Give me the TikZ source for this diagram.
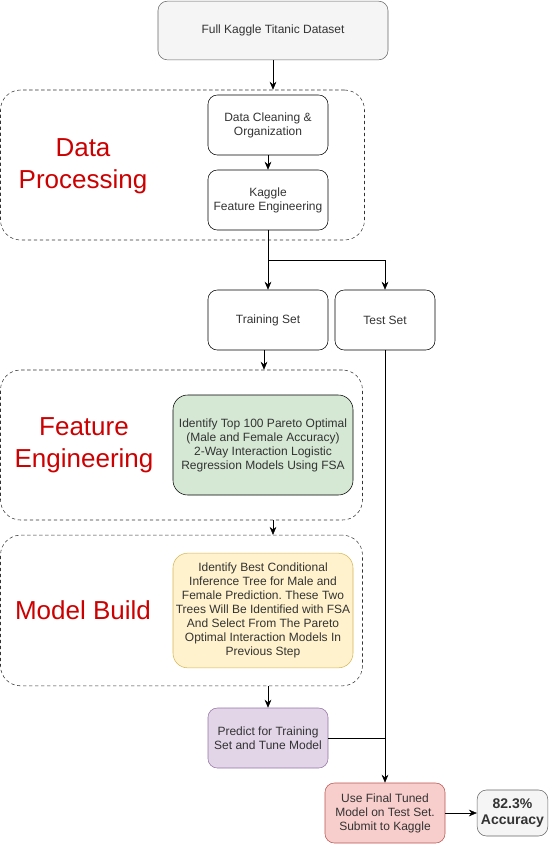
\documentclass[tikz,border=0pt]{standalone}
\usepackage{fontspec}
\setmainfont{Liberation Sans}
\usepackage{xcolor}
\usetikzlibrary{arrows.meta}
\frenchspacing

\definecolor{boxline}{HTML}{333333}
\definecolor{greyfill}{HTML}{F5F5F5}
\definecolor{greyline}{HTML}{666666}
\definecolor{greenfill}{HTML}{D5E8D4}
\definecolor{yellowfill}{HTML}{FFF2CC}
\definecolor{yellowline}{HTML}{D6B656}
\definecolor{purplefill}{HTML}{E1D5E7}
\definecolor{purpleline}{HTML}{9673A6}
\definecolor{redfill}{HTML}{F8CECC}
\definecolor{redline}{HTML}{B85450}
\definecolor{headred}{HTML}{CC0000}

\tikzset{
  stepbox/.style={draw=black, rounded corners=7pt, align=center, font=\fontsize{9}{10.5}\selectfont,
    text=boxline, minimum width=90pt, minimum height=45pt, inner sep=2pt},
  groupbox/.style={draw=boxline, dash pattern=on 2.5pt off 2pt, rounded corners=15pt},
  heading/.style={text=headred, align=center, font=\fontsize{19.5}{24}\selectfont},
  flow/.style={draw=black, -{Stealth[length=6pt,width=5pt]}}
}

\begin{document}
\begin{tikzpicture}[x=0.75pt, y=-0.75pt]
	\useasboundingbox (0,0) rectangle (550,844);
	% groups
	\node[groupbox, minimum width=273pt, minimum height=112.5pt] (dp) at (182.5,165) {};
	\node[groupbox, minimum width=271.5pt, minimum height=112.5pt] (fe) at (181.5,445) {};
	\node[groupbox, minimum width=271.5pt, minimum height=113pt] (mb) at (181.5,610.5) {};
	\node[heading] (dptitle) at (83,166) {Data\\Processing};
	\node[heading] (fetitle) at (84,445) {Feature\\Engineering};
	\node[heading] (mbtitle) at (83,610) {Model Build};
	% steps
	\node[stepbox, fill=greyfill, draw=greyline, minimum width=172.5pt, minimum height=44pt] (data) at (273,30.5) {Full Kaggle Titanic Dataset};
	\node[stepbox] (clean) at (268,125) {Data Cleaning \&\\Organization};
	\node[stepbox] (kaggle) at (268,200) {Kaggle\\Feature Engineering};
	\node[stepbox] (train) at (268,320) {Training Set};
	\node[stepbox, minimum width=75pt] (test) at (385,320) {Test Set};
	\node[stepbox, fill=greenfill, minimum width=135pt, minimum height=75pt, rounded corners=11pt] (pareto) at (263,445)
		{Identify Top 100 Pareto Optimal\\(Male and Female Accuracy)\\2-Way Interaction Logistic\\Regression Models Using FSA};
	\node[stepbox, fill=yellowfill, draw=yellowline, minimum width=135pt, minimum height=86pt, rounded corners=11pt] (tree) at (263,610.5)
		{Identify Best Conditional\\Inference Tree for Male and\\Female Prediction. These Two\\Trees Will Be Identified with FSA\\And Select From The Pareto\\Optimal Interaction Models In\\Previous Step};
	\node[stepbox, fill=purplefill, draw=purpleline] (predict) at (268,738) {Predict for Training\\Set and Tune Model};
	\node[stepbox, fill=redfill, draw=redline] (final) at (385,813) {Use Final Tuned\\Model on Test Set.\\Submit to Kaggle};
	\node[stepbox, fill=greyfill, draw=greyline, minimum width=53pt, minimum height=34.5pt, font=\bfseries\fontsize{10.5}{12.5}\selectfont] (acc) at (512.5,813) {82.3\%\\Accuracy};
	% connectors
	\coordinate (split) at (268,260);
	\draw[flow] (data.south) -- (data.south |- dp.north);
	\draw[flow] (clean) -- (kaggle);
	\draw (kaggle.south) -- (split);
	\draw[flow] (split) -- (train.north);
	\draw[flow] (split) -| (test.north);
	\draw[flow] ([xshift=-3pt]train.south) -- ([xshift=-3pt]train.south |- fe.north);
	\draw[flow] (fe.south -| data.south) -- (data.south |- mb.north);
	\draw[flow] (mb.south -| predict.north) -- (predict.north);
	\draw[flow] (test.south) -- (final.north);
	\draw (predict.east) -- (predict.east -| test.south);
	\draw[flow] (final.east) -- (acc.west);
\end{tikzpicture}
\end{document}
